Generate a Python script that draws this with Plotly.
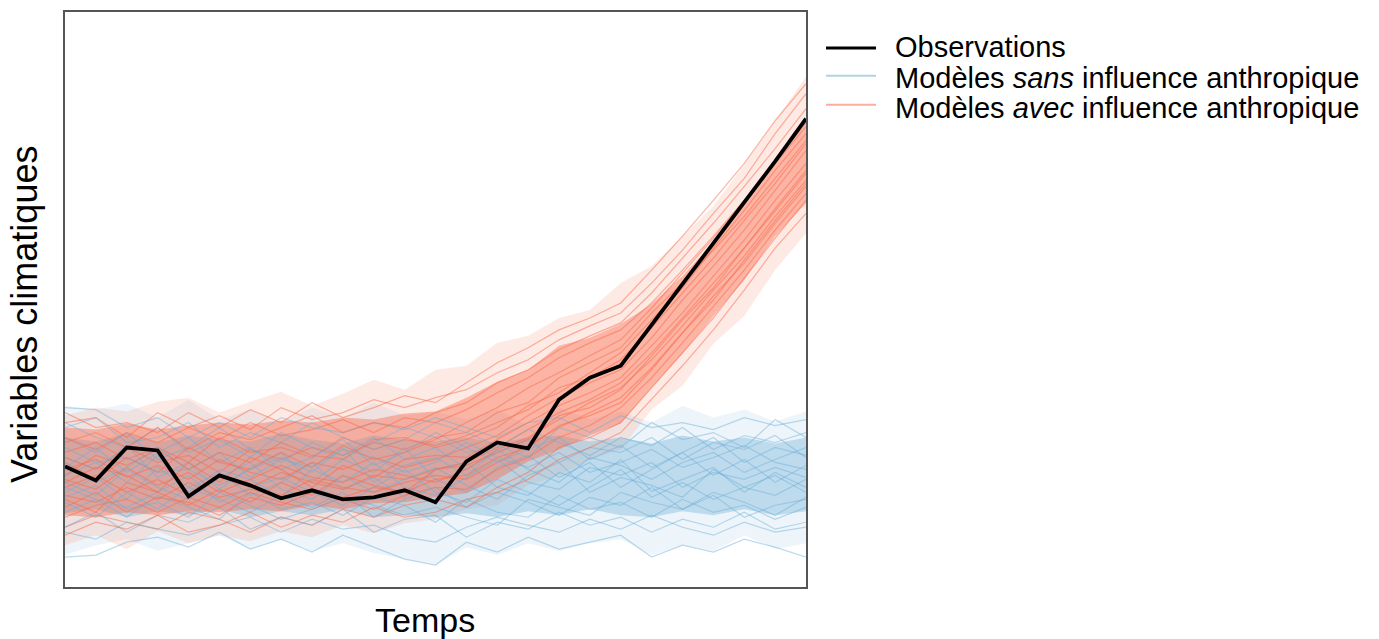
import plotly.graph_objects as go

# time steps (index)
temps = list(range(25))

# observations (arbitrary units, 0 = bottom of plot frame)
observations = [121, 107, 140, 137, 91, 112, 102, 89, 97, 88, 90, 97, 85,
                126, 145, 139, 188, 210, 222, 263, 304, 345, 386, 427, 470]

# envelopes of the ensembles
blue_outer_hi = [182, 178, 184, 170, 188, 168, 178, 165, 180, 170, 185, 172, 176,
                 168, 178, 162, 180, 168, 176, 165, 182, 170, 178, 166, 176]
blue_core_hi = [150, 146, 154, 145, 152, 148, 146, 154, 148, 144, 152, 148, 146,
                150, 144, 150, 152, 146, 150, 144, 152, 146, 150, 144, 150]
blue_core_lo = [74, 78, 70, 76, 72, 78, 70, 76, 72, 78, 70, 72, 70,
                74, 70, 76, 72, 78, 72, 70, 76, 72, 78, 72, 76]
blue_outer_lo = [32, 42, 48, 36, 44, 52, 38, 48, 36, 44, 34, 28, 22,
                 40, 32, 44, 36, 44, 48, 32, 42, 36, 52, 38, 44]

red_outer_hi = [172, 180, 176, 186, 190, 175, 186, 196, 182, 194, 208, 198, 218,
                222, 245, 252, 270, 278, 305, 322, 352, 382, 424, 468, 512]
red_core_hi = [160, 158, 164, 158, 162, 165, 163, 167, 165, 170, 168, 174, 176,
               190, 206, 218, 242, 250, 264, 284, 312, 346, 386, 428, 466]
red_core_lo = [72, 70, 75, 72, 76, 75, 78, 76, 82, 78, 84, 85, 90,
               94, 108, 126, 138, 152, 164, 200, 234, 272, 308, 352, 385]
red_outer_lo = [42, 52, 38, 56, 44, 52, 46, 56, 50, 62, 54, 64, 68,
                78, 82, 102, 112, 128, 138, 178, 202, 244, 272, 318, 355]

# a selection of individual model runs
blue_members = [
    [130, 118, 142, 110, 125, 98, 120, 135, 105, 128, 115, 140, 108, 95, 120, 132, 110, 125, 100, 118, 135, 112, 128, 105, 122],
    [95, 110, 88, 120, 100, 115, 92, 105, 125, 98, 110, 90, 118, 125, 100, 92, 115, 105, 128, 96, 108, 120, 95, 115, 100],
    [150, 135, 155, 128, 140, 160, 138, 125, 145, 132, 150, 128, 140, 118, 135, 148, 125, 140, 135, 150, 128, 145, 138, 152, 130],
    [75, 88, 70, 92, 80, 68, 95, 78, 85, 72, 90, 82, 65, 88, 75, 70, 92, 78, 85, 70, 88, 75, 82, 68, 80],
    [112, 125, 105, 132, 95, 118, 108, 90, 118, 105, 125, 100, 92, 110, 128, 105, 98, 120, 112, 125, 100, 115, 108, 120, 110],
    [165, 150, 140, 160, 135, 148, 130, 155, 140, 128, 145, 160, 150, 135, 140, 158, 145, 132, 150, 142, 160, 138, 152, 145, 155],
    [60, 75, 55, 72, 65, 80, 58, 70, 62, 78, 55, 68, 72, 50, 65, 58, 75, 62, 70, 55, 68, 60, 75, 58, 65],
    [105, 92, 118, 100, 88, 110, 125, 98, 88, 112, 95, 108, 120, 102, 88, 112, 125, 95, 110, 102, 90, 118, 100, 92, 108],
    [180, 178, 160, 170, 150, 165, 150, 170, 160, 155, 165, 158, 170, 160, 150, 165, 170, 155, 172, 160, 165, 158, 170, 162, 168],
    [30, 32, 45, 50, 40, 55, 38, 48, 35, 52, 40, 28, 22, 45, 35, 50, 38, 45, 52, 30, 42, 35, 48, 40, 30],
    [120, 140, 115, 135, 150, 125, 140, 118, 130, 148, 122, 135, 155, 140, 125, 138, 150, 128, 142, 120, 135, 150, 125, 140, 132],
    [85, 70, 95, 78, 100, 88, 75, 92, 80, 95, 70, 88, 100, 80, 95, 85, 72, 90, 82, 100, 78, 95, 85, 72, 90],
    [140, 125, 130, 115, 118, 135, 110, 128, 120, 138, 130, 115, 125, 145, 130, 120, 135, 115, 125, 138, 120, 130, 142, 125, 118],
    [100, 88, 80, 95, 112, 85, 100, 110, 95, 82, 100, 118, 95, 85, 108, 95, 82, 100, 118, 90, 105, 88, 100, 112, 95],
    [55, 48, 65, 58, 52, 62, 70, 55, 68, 58, 62, 50, 45, 60, 70, 62, 55, 68, 58, 72, 60, 52, 65, 55, 60],
    [125, 105, 120, 140, 118, 102, 118, 130, 115, 140, 105, 122, 130, 112, 138, 118, 105, 130, 122, 108, 125, 135, 115, 128, 140],
    [160, 170, 145, 150, 165, 140, 155, 145, 165, 150, 138, 148, 165, 155, 142, 130, 160, 150, 140, 165, 148, 155, 140, 168, 150],
    [90, 102, 78, 85, 70, 95, 82, 68, 78, 90, 82, 72, 80, 70, 62, 88, 80, 72, 95, 85, 78, 92, 70, 82, 88],
]
red_members = [
    [130, 118, 140, 125, 132, 115, 138, 128, 140, 132, 145, 138, 150, 155, 175, 185, 210, 225, 240, 275, 305, 338, 372, 410, 448],
    [100, 112, 95, 108, 92, 110, 100, 115, 105, 98, 112, 108, 118, 125, 140, 158, 175, 188, 205, 235, 270, 305, 340, 380, 418],
    [150, 138, 155, 145, 160, 148, 165, 152, 158, 168, 155, 170, 165, 178, 195, 210, 230, 245, 258, 285, 318, 352, 388, 428, 466],
    [80, 95, 75, 90, 85, 72, 90, 82, 95, 88, 78, 92, 100, 98, 118, 130, 150, 162, 180, 210, 245, 282, 318, 358, 395],
    [118, 128, 110, 122, 108, 128, 115, 108, 125, 118, 130, 120, 128, 140, 152, 172, 190, 205, 218, 250, 288, 322, 358, 398, 438],
    [60, 72, 65, 58, 75, 68, 55, 70, 62, 78, 70, 82, 88, 80, 100, 115, 140, 150, 165, 200, 235, 270, 310, 350, 388],
    [165, 170, 150, 175, 160, 172, 158, 180, 168, 175, 188, 180, 190, 198, 215, 228, 248, 262, 275, 305, 338, 375, 410, 455, 495],
    [108, 98, 120, 102, 115, 95, 108, 122, 110, 105, 118, 112, 105, 118, 138, 150, 168, 185, 200, 228, 262, 298, 332, 372, 408],
    [135, 145, 128, 140, 125, 150, 135, 140, 130, 150, 138, 148, 142, 152, 165, 178, 200, 210, 228, 260, 295, 330, 368, 405, 445],
    [92, 85, 100, 88, 105, 90, 98, 92, 108, 100, 95, 105, 112, 108, 125, 142, 160, 175, 190, 220, 255, 292, 325, 365, 402],
    [125, 108, 130, 115, 140, 125, 118, 135, 120, 142, 128, 135, 148, 165, 180, 200, 215, 232, 248, 280, 315, 350, 388, 425, 462],
    [70, 82, 88, 75, 90, 80, 95, 85, 78, 90, 100, 95, 108, 112, 130, 140, 162, 172, 185, 218, 255, 288, 328, 368, 405],
    [145, 155, 140, 160, 138, 155, 148, 160, 172, 155, 165, 160, 175, 185, 205, 218, 238, 252, 265, 295, 330, 365, 402, 440, 480],
    [105, 120, 112, 95, 125, 105, 130, 118, 100, 122, 110, 128, 132, 130, 148, 165, 182, 195, 210, 242, 275, 312, 348, 388, 425],
    [88, 75, 105, 95, 82, 98, 85, 105, 92, 112, 102, 95, 118, 122, 135, 148, 172, 180, 198, 232, 268, 300, 340, 378, 415],
    [175, 160, 165, 155, 175, 160, 178, 165, 185, 170, 180, 192, 185, 205, 225, 240, 258, 270, 285, 318, 352, 388, 425, 468, 505],
    [52, 65, 58, 72, 55, 62, 75, 60, 72, 65, 80, 70, 75, 88, 95, 108, 128, 140, 155, 188, 222, 258, 298, 340, 375],
    [112, 132, 122, 138, 118, 135, 125, 145, 132, 128, 148, 150, 140, 148, 160, 182, 195, 215, 235, 268, 300, 340, 378, 418, 455],
]

legend_labels = ["Observations",
                 "Modèles <i>sans</i> influence anthropique",
                 "Modèles <i>avec</i> influence anthropique"]

BLUE = "107,174,214"
RED = "251,106,74"

fig = go.Figure()


def band(lo, hi, rgb, alpha):
    fig.add_trace(go.Scatter(x=temps, y=lo, mode="lines", line=dict(width=0),
                             showlegend=False, hoverinfo="skip"))
    fig.add_trace(go.Scatter(x=temps, y=hi, mode="lines", line=dict(width=0),
                             fill="tonexty", fillcolor=f"rgba({rgb},{alpha})",
                             showlegend=False, hoverinfo="skip"))


band(blue_outer_lo, blue_outer_hi, BLUE, 0.12)
band(red_outer_lo, red_outer_hi, RED, 0.14)
band(blue_core_lo, blue_core_hi, BLUE, 0.36)
band(red_core_lo, red_core_hi, RED, 0.42)

for b, r in zip(blue_members, red_members):
    fig.add_trace(go.Scatter(x=temps, y=b, mode="lines",
                             line=dict(color=f"rgba({BLUE},0.45)", width=1.2),
                             showlegend=False, hoverinfo="skip"))
    fig.add_trace(go.Scatter(x=temps, y=r, mode="lines",
                             line=dict(color=f"rgba({RED},0.5)", width=1.2),
                             showlegend=False, hoverinfo="skip"))

fig.add_trace(go.Scatter(x=temps, y=observations, mode="lines",
                         line=dict(color="black", width=3.8), showlegend=False,
                         name="Observations"))

# legend drawn manually to match spacing
FONT = "Liberation Sans, Arial, sans-serif"
leg_rows_y = [0.9393, 0.8856, 0.8336]
leg_line_y = [0.9376, 0.8891, 0.8388]
leg_colors = ["black", "rgba(107,174,214,0.55)", "rgba(251,106,74,0.55)"]
leg_widths = [3, 2, 2]
for lab, ty, ly, c, w in zip(legend_labels, leg_rows_y, leg_line_y, leg_colors, leg_widths):
    fig.add_shape(type="line", xref="paper", yref="paper", x0=1.027, x1=1.0945,
                  y0=ly, y1=ly, line=dict(color=c, width=w))
    fig.add_annotation(text=lab, xref="paper", yref="paper", x=1.1174, y=ty,
                       xanchor="left", yanchor="middle", showarrow=False,
                       font=dict(family=FONT, size=29, color="black"))

fig.add_annotation(text="Temps", xref="paper", yref="paper", x=0.486, y=-0.057,
                   xanchor="center", yanchor="middle", showarrow=False,
                   font=dict(family=FONT, size=34, color="black"))
fig.add_annotation(text="Variables climatiques", xref="paper", yref="paper",
                   x=-0.0553, y=0.473, textangle=-90, xanchor="center",
                   yanchor="middle", showarrow=False,
                   font=dict(family=FONT, size=36, color="black"))

fig.update_layout(
    width=1379, height=639,
    margin=dict(l=65, r=573, t=10, b=52),
    paper_bgcolor="white", plot_bgcolor="white",
    showlegend=False,
    font=dict(family=FONT),
)
fig.update_xaxes(range=[0, 24], showgrid=False, zeroline=False, showticklabels=False,
                 ticks="", showline=True, mirror=True, linecolor="#555", linewidth=2)
fig.update_yaxes(range=[0, 577], showgrid=False, zeroline=False, showticklabels=False,
                 ticks="", showline=True, mirror=True, linecolor="#555", linewidth=2)

fig.write_html("out.html")
